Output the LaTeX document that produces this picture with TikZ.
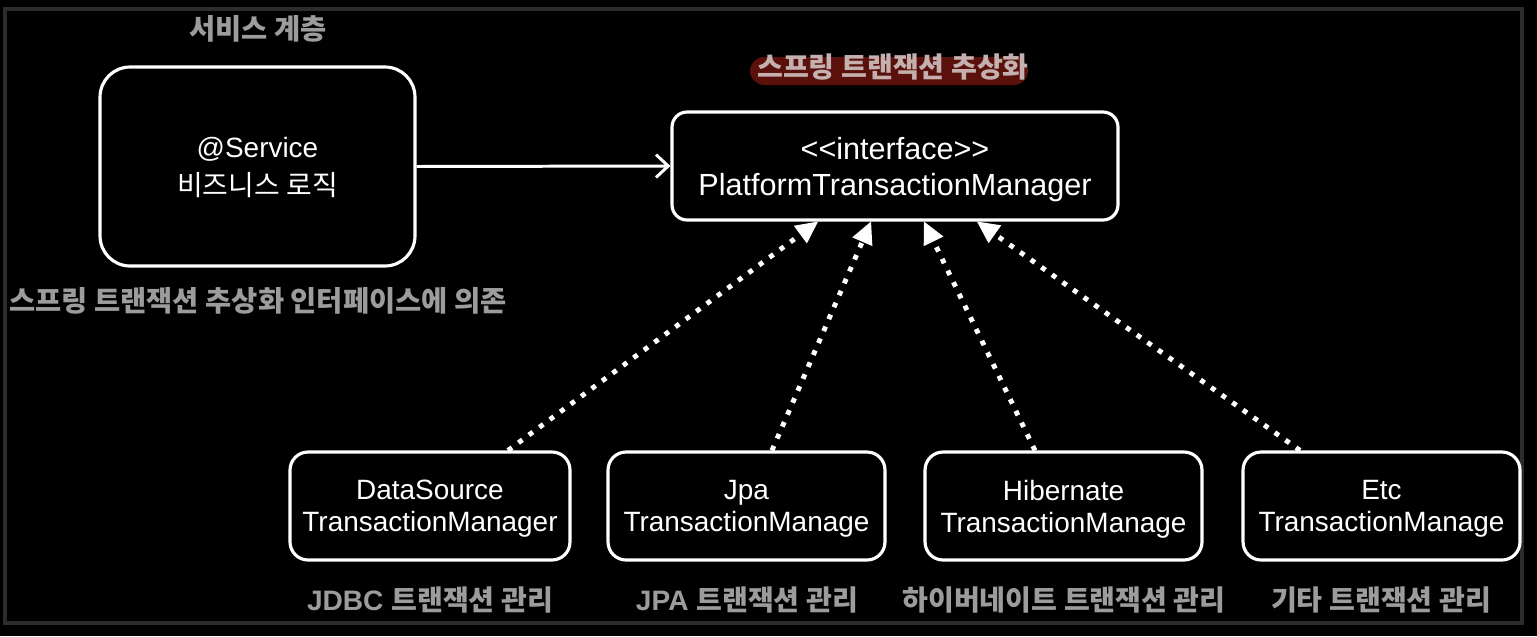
\documentclass[tikz,border=0pt]{standalone}
\usepackage{fontspec}
\setmainfont{Liberation Sans}
\newfontfamily\kr{Noto Sans CJK KR}
\usetikzlibrary{arrows.meta}
\definecolor{framegray}{HTML}{2C2C2C}
\definecolor{labelgray}{HTML}{9C9C9C}
\definecolor{hlred}{HTML}{5A110C}
\definecolor{hltext}{HTML}{C4B0AE}
\tikzset{
  box/.style={draw=white, line width=1.8pt, fill=black, text=white, align=center, inner sep=0pt, text depth=0pt},
  boxtxt/.style={font=\fontsize{15.9}{18.2}\selectfont},
  graylabel/.style={text=labelgray, inner sep=0pt},
  implarrow/.style={draw=white, line width=2.8pt, dash pattern=on 2.8pt off 4.6pt,
    -{Triangle[length=12.5pt,width=12.5pt,fill=white,line width=0pt]}},
  usearrow/.style={draw=white, line width=1.7pt, -{Straight Barb[length=7pt,width=13pt,line width=1.7pt]}}
}
\begin{document}
\begin{tikzpicture}[x=0.02cm,y=-0.02cm]
\useasboundingbox[fill=black] (0,0) rectangle (1537,636);
\draw[framegray, line width=1.8pt] (5,9) rectangle (1522,623);

% service layer
\node[graylabel, font=\kr\bfseries\fontsize{16.2}{18}\selectfont] (svclbl) at (258,29) {서비스 계층};
\node[box, rounded corners=0.6cm, minimum width=6.3cm, minimum height=3.98cm,
  font=\fontsize{15.9}{21.5}\selectfont] (svc) at (257.5,166.5)
  {@Service\\{\kr 비즈니스 로직}};
\node[graylabel, anchor=west, font=\kr\bfseries\fontsize{16.2}{18}\selectfont] (deplbl) at (9,301)
  {스프링 트랜잭션 추상화 인터페이스에 의존};

% abstraction
\node[fill=hlred, rounded corners=0.28cm, minimum width=5.56cm, minimum height=0.56cm, inner sep=0pt] (hl) at (889,71) {};
\node[text=hltext, inner sep=0pt, font=\kr\bfseries\fontsize{16}{18}\selectfont] (hltxt) at (893,67) {스프링 트랜잭션 추상화};
\node[box, rounded corners=0.3cm, minimum width=8.92cm, minimum height=2.16cm,
  font=\fontsize{17.4}{20.5}\selectfont] (pi) at (895,166)
  {<{}<interface>{}>\\PlatformTransactionManager};

\draw[usearrow] (svc.east) -- (pi.west);

% implementations
\node[box, boxtxt, rounded corners=0.36cm, minimum width=5.6cm, minimum height=2.16cm] (b1) at (430,506)
  {DataSource\\TransactionManager};
\node[box, boxtxt, rounded corners=0.36cm, minimum width=5.54cm, minimum height=2.16cm] (b2) at (746.5,506)
  {Jpa\\TransactionManage};
\node[box, boxtxt, rounded corners=0.36cm, minimum width=5.54cm, minimum height=2.16cm] (b3) at (1063.5,506)
  {Hibernate\\TransactionManage};
\node[box, boxtxt, rounded corners=0.36cm, minimum width=5.54cm, minimum height=2.16cm] (b4) at (1381.5,506)
  {Etc\\TransactionManage};

\draw[implarrow] ([xshift=1.56cm]b1.north) -- ([xshift=-1.54cm]pi.south);
\draw[implarrow] ([xshift=0.51cm]b2.north) -- ([xshift=-0.48cm]pi.south);
\draw[implarrow] ([xshift=-0.57cm]b3.north) -- ([xshift=0.58cm]pi.south);
\draw[implarrow] ([xshift=-1.63cm]b4.north) -- ([xshift=1.64cm]pi.south);

\node[graylabel, font=\bfseries\fontsize{16}{18}\selectfont] (l1) at (430,600) {JDBC {\kr 트랜잭션 관리}};
\node[graylabel, font=\bfseries\fontsize{16}{18}\selectfont] (l2) at (747,600) {JPA {\kr 트랜잭션 관리}};
\node[graylabel, font=\kr\bfseries\fontsize{16}{18}\selectfont] (l3) at (1064,600) {하이버네이트 트랜잭션 관리};
\node[graylabel, font=\kr\bfseries\fontsize{16}{18}\selectfont] (l4) at (1381,600) {기타 트랜잭션 관리};
\end{tikzpicture}
\end{document}
